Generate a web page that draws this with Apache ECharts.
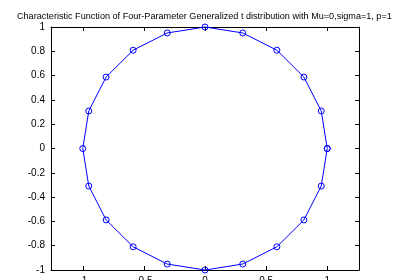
<!DOCTYPE html>
<html>
<head>
<meta charset="utf-8">
<script src="https://cdn.jsdelivr.net/npm/echarts@6/dist/echarts.min.js"></script>
<style>
  html, body { margin: 0; padding: 0; background: #fff; }
  #chart { width: 393px; height: 280px; }
</style>
</head>
<body>
<div id="chart"></div>
<script>
// real and imaginary parts of the characteristic function
var realPart = [1, 0.951, 0.809, 0.588, 0.309, 0, -0.309, -0.588, -0.809, -0.951, -1,
  -0.951, -0.809, -0.588, -0.309, 0, 0.309, 0.588, 0.809, 0.951, 1];
var imagPart = [0, 0.309, 0.588, 0.809, 0.951, 1, 0.951, 0.809, 0.588, 0.309, 0,
  -0.309, -0.588, -0.809, -0.951, -1, -0.951, -0.809, -0.588, -0.309, 0];
var xTicks = [-1, -0.5, 0, 0.5, 1];
var yTicks = [-1, -0.8, -0.6, -0.4, -0.2, 0, 0.2, 0.4, 0.6, 0.8, 1];

var myChart = echarts.init(document.getElementById("chart"));
var points = realPart.map(function (x, i) { return [x, imagPart[i]]; });

var font = "Liberation Sans, Arial, sans-serif";
var lineStyle = { color: "#000", width: 1 };

var option = {
  animation: false,
  backgroundColor: "#fff",
  title: {
    text: "Characteristic Function of Four-Parameter Generalized t distribution with Mu=0,sigma=1, p=1",
    left: 12,
    top: 7,
    textStyle: { fontFamily: font, fontSize: 9.1, fontWeight: "normal", color: "#000" }
  },
  grid: { left: 51, right: 34, top: 27, bottom: 10, containLabel: false, outerBoundsMode: "none" },
  xAxis: [
    {
      type: "value", min: -1.26, max: 1.26, position: "bottom",
      axisLine: { show: true, onZero: false, lineStyle: lineStyle },
      axisTick: { show: true, inside: true, length: 4, customValues: xTicks, lineStyle: lineStyle },
      axisLabel: { customValues: xTicks, fontFamily: font, fontSize: 10, color: "#000", margin: 6 },
      splitLine: { show: false }
    },
    {
      type: "value", min: -1.26, max: 1.26, position: "top",
      axisLine: { show: true, onZero: false, lineStyle: lineStyle },
      axisTick: { show: true, inside: true, length: 4, customValues: xTicks, lineStyle: lineStyle },
      axisLabel: { show: false },
      splitLine: { show: false }
    }
  ],
  yAxis: [
    {
      type: "value", min: -1, max: 1, interval: 0.2, position: "left",
      axisLine: { show: true, onZero: false, lineStyle: lineStyle },
      axisTick: { show: true, inside: true, length: 4, customValues: yTicks, lineStyle: lineStyle },
      axisLabel: { customValues: yTicks, fontFamily: font, fontSize: 10, color: "#000", margin: 6 },
      splitLine: { show: false }
    },
    {
      type: "value", min: -1, max: 1, interval: 0.2, position: "right",
      axisLine: { show: true, onZero: false, lineStyle: lineStyle },
      axisTick: { show: true, inside: true, length: 4, customValues: yTicks, lineStyle: lineStyle },
      axisLabel: { show: false },
      splitLine: { show: false }
    }
  ],
  series: [
    {
      type: "line",
      data: points,
      clip: false,
      symbol: "circle",
      symbolSize: 6,
      lineStyle: { color: "#0000ff", width: 1 },
      itemStyle: { color: "rgba(0,0,0,0)", borderColor: "#0000ff", borderWidth: 1 }
    }
  ]
};

option && myChart.setOption(option);
</script>
</body>
</html>
